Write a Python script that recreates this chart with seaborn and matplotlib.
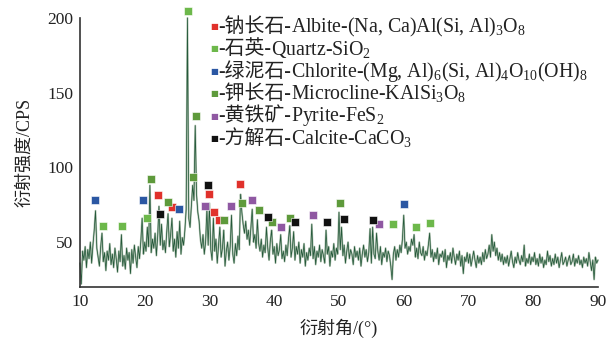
import numpy as np
import pandas as pd
import matplotlib
matplotlib.use("Agg")
import matplotlib.pyplot as plt
import seaborn as sns

# ---- data ----
two_theta_start = 10.0
two_theta_step = 0.2
intensity = [
    36, 22, 44, 38, 47,  33, 45, 39, 50, 36,  48, 58, 71, 46, 40,  34, 47, 56, 37, 43,
    31, 44, 38, 49, 35,  42, 33, 46, 39, 30,  44, 37, 55, 34, 41,  32, 46, 38, 43, 29,
    45, 36, 48, 40, 33,  47, 39, 51, 66, 42,  50, 44, 60, 47, 88,  43, 52, 46, 56, 41,
    54, 74, 48, 62, 45,  51, 43, 57, 69, 47,  55, 66, 44, 52, 40,  57, 46, 64, 42, 53,
    48, 58, 72, 200, 66, 60, 74, 88, 78, 128, 82, 70, 64, 52, 46,  55, 42, 50, 72, 48,
    76, 45, 38, 66, 44,  52, 36, 48, 60, 40,  46, 58, 34, 44, 50,  38, 47, 68, 42, 36,
    49, 41, 54, 45, 82,  70, 62, 56, 64, 52,  58, 48, 60, 72, 50,  55, 46, 65, 49, 44,
    52, 40, 48, 43, 60,  46, 38, 51, 58, 42,  47, 36, 49, 41, 45,  55, 39, 44, 37, 48,
    41, 52, 61, 40, 46,  57, 38, 47, 42, 50,  36, 45, 40, 49, 34,  43, 38, 46, 41, 62,
    39, 47, 35, 44, 40,  48, 37, 45, 41, 36,  58, 42, 47, 34, 44,  40, 49, 38, 46, 42,
    70, 45, 60, 41, 48,  36, 44, 50, 39, 45,  42, 35, 47, 40, 44,  38, 46, 34, 42, 48,
    40, 45, 37, 43, 59,  36, 60, 42, 39, 56,  44, 38, 47, 35, 43,  40, 46, 37, 44, 41,
    34, 25, 42, 47, 38,  45, 40, 48, 43, 52,  68, 46, 50, 42, 47,  44, 52, 48, 55, 40,
    46, 39, 50, 43, 41,  47, 38, 44, 41, 48,  56, 40, 45, 37, 43,  39, 46, 35, 42, 40,
    44, 37, 45, 33, 41,  38, 43, 36, 46, 40,  35, 42, 38, 44, 34,  41, 29, 40, 37, 43,
    36, 42, 34, 39, 44,  38, 33, 41, 36, 40,  35, 43, 37, 45, 39,  42, 48, 40, 55, 44,
    50, 41, 46, 38, 43,  37, 42, 35, 40, 36,  41, 34, 39, 44, 37,  33, 40, 36, 43, 38,
    35, 41, 37, 48, 34,  39, 36, 42, 35, 40,  37, 43, 35, 39, 34,  42, 36, 40, 33, 38,
    35, 44, 37, 41, 34,  39, 35, 42, 36, 40,  33, 38, 43, 35, 37,  40, 34, 38, 41, 35,
    37, 42, 34, 39, 36,  41, 35, 38, 33, 40,  36, 39, 34, 43, 37,  31, 38, 25, 40, 36,
    38,
]

phase_cn = ["钠长石", "石英", "绿泥石", "钾长石", "黄铁矿", "方解石"]
phase_en = [
    "Albite-(Na, Ca)Al(Si, Al)$_3$O$_8$",
    "Quartz-SiO$_2$",
    "Chlorite-(Mg, Al)$_6$(Si, Al)$_4$O$_{10}$(OH)$_8$",
    "Microcline-KAlSi$_3$O$_8$",
    "Pyrite-FeS$_2$",
    "Calcite-CaCO$_3$",
]
phase_colors = ["#e0312b", "#6db84b", "#2b57a3", "#5e9a3b", "#8f58a2", "#111111"]

albite_x = [22.09, 24.2, 29.97, 30.65, 31.47, 34.71]
albite_y = [81.3, 73.2, 82.2, 70.1, 65.1, 89.2]
quartz_x = [13.6, 16.44, 20.3, 26.68, 58.34, 61.85, 64.05]
quartz_y = [60.6, 60.6, 66.2, 204.5, 62.4, 60.1, 62.8]
chlorite_x = [12.32, 19.68, 25.34, 60.04]
chlorite_y = [78.4, 78.4, 72.1, 75.7]
microcline_x = [20.92, 23.64, 27.45, 27.9, 32.24, 35.07, 37.65, 39.7, 42.48, 50.2]
microcline_y = [92.4, 77.2, 93.7, 134.5, 65.1, 76.1, 71.4, 63.5, 66.4, 76.1]
pyrite_x = [29.35, 33.32, 36.61, 41.0, 45.98, 56.22]
pyrite_y = [74.3, 74.3, 78.4, 59.9, 68.0, 62.2]
calcite_x = [22.36, 29.81, 38.99, 43.2, 48.15, 50.72, 55.3]
calcite_y = [68.7, 88.3, 66.9, 63.3, 63.3, 65.3, 65.1]

xticks = [10, 20, 30, 40, 50, 60, 70, 80, 90]
yticks = [50, 100, 150, 200]

# ---- style ----
sns.set_style("white")
plt.rcParams["font.family"] = ["Liberation Serif", "Noto Sans CJK SC", "DejaVu Sans"]
plt.rcParams["mathtext.fontset"] = "custom"
plt.rcParams["mathtext.rm"] = "Liberation Serif"
plt.rcParams["mathtext.it"] = "Liberation Serif"
plt.rcParams["mathtext.default"] = "rm"

fig = plt.figure(figsize=(6.11, 3.52), dpi=100)
ax = fig.add_axes([0.1309, 0.1847, 0.8478, 0.7642])

x = two_theta_start + two_theta_step * np.arange(len(intensity))
df = pd.DataFrame({"two_theta": x, "intensity": intensity})
sns.lineplot(data=df, x="two_theta", y="intensity", ax=ax, color="#b3c4b3",
             lw=1.4, clip_on=False, estimator=None)
sns.lineplot(data=df, x="two_theta", y="intensity", ax=ax, color="#24593a",
             lw=0.55, clip_on=False, estimator=None)

marker_sets = [
    (albite_x, albite_y), (quartz_x, quartz_y), (chlorite_x, chlorite_y),
    (microcline_x, microcline_y), (pyrite_x, pyrite_y), (calcite_x, calcite_y),
]
for (mx, my), col in zip(marker_sets, phase_colors):
    ax.scatter(mx, my, marker="s", s=26, color=col, edgecolors="white",
               linewidths=0.4, zorder=5, clip_on=False)

ax.set_xlim(10, 90)
ax.set_ylim(20, 200)
ax.set_xticks(xticks)
ax.set_yticks(yticks)
ax.tick_params(axis="both", direction="in", length=4, width=1, labelsize=12.5,
               colors="#333333", pad=5)
ax.tick_params(axis="both", labelcolor="#222222")
for s in ["top", "right"]:
    ax.spines[s].set_visible(False)
for s in ["left", "bottom"]:
    ax.spines[s].set_color("#333333")
    ax.spines[s].set_linewidth(1.2)

ax.set_xlabel("衍射角/(°)", fontsize=13, color="#222222", labelpad=6)
ax.set_ylabel("衍射强度/CPS", fontsize=13, color="#222222", labelpad=10)

# legend drawn as text with coloured squares
row_y = [27, 49, 71.5, 93.5, 116, 138.5]
H = 352
fig.canvas.draw()
renderer = fig.canvas.get_renderer()
for cn, en, col, ypx in zip(phase_cn, phase_en, phase_colors, row_y):
    fy = 1 - ypx / H
    fb = 1 - (ypx + 5.5) / H
    fig.text(214 / 611, fy, "■", color=col, fontsize=6, ha="center", va="center",
             family=["DejaVu Sans"])
    t1 = fig.text(218 / 611, fb, "-" + cn + "-", color="#222222", fontsize=14.3,
                  ha="left", va="baseline")
    bb = t1.get_window_extent(renderer=renderer)
    fig.text(bb.x1 / fig.bbox.width, fb, en, color="#222222", fontsize=14.3,
             ha="left", va="baseline")

fig.savefig("out.png", dpi=100)
